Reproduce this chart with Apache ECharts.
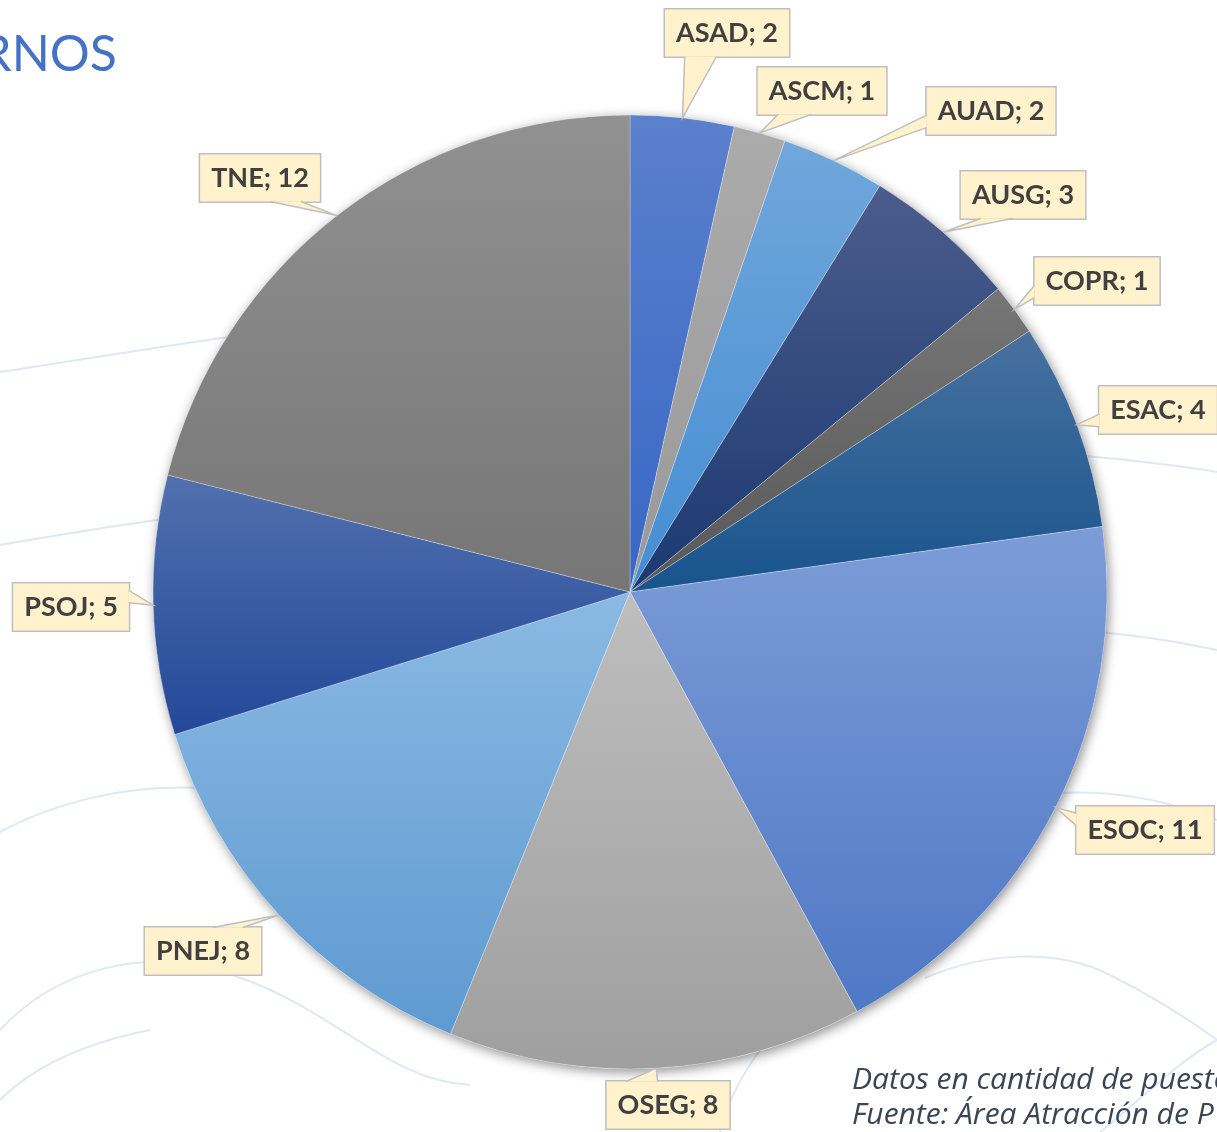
<!DOCTYPE html>
<html>
<head>
<meta charset="utf-8">
<script src="https://cdn.jsdelivr.net/npm/echarts@6/dist/echarts.min.js"></script>
<style>
  html, body { margin: 0; padding: 0; background: #ffffff; }
  #chart { width: 1217px; height: 1132px; }
</style>
</head>
<body>
<div id="chart"></div>
<script>
// ---- data ----
const categories = ['ASAD', 'ASCM', 'AUAD', 'AUSG', 'COPR', 'ESAC', 'ESOC', 'OSEG', 'PNEJ', 'PSOJ', 'TNE'];
const values = [2, 1, 2, 3, 1, 4, 11, 8, 8, 5, 12];
const titleText = 'RNOS';
const noteLines = ['Datos en cantidad de puestos', 'Fuente: Área Atracción de P'];

// ---- styles / layout ----
const topColors    = ['#5b80cc', '#ababab', '#70a7db', '#4b5c8b', '#767676', '#48719f', '#7c9cd7', '#bebebe', '#8bb9e3', '#5270ae', '#919191'];
const bottomColors = ['#3767c5', '#999999', '#448dd3', '#1b3972', '#585858', '#18548d', '#4f78c5', '#9f9f9f', '#5e9ad1', '#224898', '#767676'];
const CENTER = [630, 592];
const RADIUS = 477;
// label box centre offsets from the pie centre (px)
const labelOffsets = [[97, -559], [192, -501], [361, -481], [393, -397], [467, -311], [528, -182], [515, 238], [38, 513], [-427, 359], [-559, 15], [-370, -414]];

const chart = echarts.init(document.getElementById('chart'), null, { renderer: 'canvas' });

function tipFor(i) {
  const total = values.reduce((s, v) => s + v, 0);
  let before = 0;
  for (let k = 0; k < i; k++) before += values[k];
  const mid = (before + values[i] / 2) / total * Math.PI * 2;
  return [CENTER[0] + RADIUS * Math.sin(mid), CENTER[1] - RADIUS * Math.cos(mid)];
}

// Office "wedgeRectCallout" tail geometry
function calloutTail(tip, left, top, w, h) {
  const hc = left + w / 2, vc = top + h / 2;
  const dxPos = tip[0] - hc, dyPos = tip[1] - vc;
  const dq = dxPos * h / w;
  const dz = Math.abs(dyPos) - Math.abs(dq);
  const inset = 1.5;
  if (dz > 0) {
    const g1 = dxPos > 0 ? 7 : 2, g2 = dxPos > 0 ? 10 : 5;
    const ey = dyPos > 0 ? top + h - inset : top + inset;
    return [[left + w * g1 / 12, ey], tip, [left + w * g2 / 12, ey]];
  } else {
    const g1 = dyPos > 0 ? 7 : 2, g2 = dyPos > 0 ? 10 : 5;
    const ex = dxPos > 0 ? left + w - inset : left + inset;
    return [[ex, top + h * g1 / 12], tip, [ex, top + h * g2 / 12]];
  }
}

const boxes = [];

const pieData = categories.map((name, i) => ({
  name: name,
  value: values[i],
  itemStyle: {
    color: {
      type: 'linear', x: 0, y: 0, x2: 0, y2: 1,
      colorStops: [{ offset: 0, color: topColors[i] }, { offset: 1, color: bottomColors[i] }]
    }
  }
}));

// faint decorative background curves
const bgCurves = [
  [0, 372, 80, 360, 170, 345, 250, 334],
  [0, 545, 60, 535, 110, 526, 165, 519],
  [1085, 456, 1130, 460, 1175, 465, 1217, 472],
  [1100, 632, 1140, 636, 1180, 642, 1217, 650],
  [1060, 793, 1110, 790, 1170, 800, 1217, 820],
  [0, 832, 60, 800, 130, 785, 200, 788],
  [0, 1030, 60, 965, 150, 950, 215, 970],
  [215, 970, 330, 1000, 380, 1080, 470, 1085],
  [925, 978, 990, 950, 1060, 950, 1110, 975],
  [1110, 975, 1160, 1000, 1190, 1020, 1217, 1040],
  [720, 1132, 730, 1090, 760, 1040, 800, 1010],
  [1100, 1132, 1140, 1100, 1180, 1060, 1217, 1040],
  [0, 1100, 40, 1060, 100, 1040, 150, 1030]
];

const graphics = bgCurves.map(c => ({
  type: 'bezierCurve',
  silent: true,
  z: -10,
  shape: { x1: c[0], y1: c[1], cpx1: c[2], cpy1: c[3], cpx2: c[4], cpy2: c[5], x2: c[6], y2: c[7] },
  style: { stroke: '#dfe8f3', lineWidth: 2, fill: null }
}));

graphics.push({
  type: 'text',
  right: 1217 - 117,
  top: 30,
  style: {
    text: titleText,
    fill: '#4472c4',
    font: '50px Lato, "Open Sans", sans-serif'
  }
});

noteLines.forEach((t, k) => {
  graphics.push({
    type: 'text',
    left: 852,
    top: 1065 + k * 35,
    style: {
      text: t,
      fill: '#3a4556',
      font: 'italic 30px "Open Sans", "Noto Sans", sans-serif'
    }
  });
});

const option = {
  backgroundColor: '#ffffff',
  animation: false,
  graphic: graphics,
  series: [
    {
      // soft shadow under the pie
      type: 'pie',
      silent: true,
      z: 1,
      center: CENTER,
      radius: RADIUS,
      label: { show: false },
      labelLine: { show: false },
      emphasis: { disabled: true },
      itemStyle: {
        color: '#ffffff',
        shadowBlur: 12,
        shadowColor: 'rgba(0,0,0,0.45)',
        shadowOffsetX: 2,
        shadowOffsetY: 3
      },
      data: [{ value: 1, name: '' }]
    },
    {
      type: 'pie',
      z: 2,
      center: CENTER,
      radius: RADIUS,
      startAngle: 90,
      clockwise: true,
      avoidLabelOverlap: false,
      emphasis: { disabled: true },
      itemStyle: { borderColor: 'rgba(255,255,255,0.35)', borderWidth: 0.8 },
      label: {
        show: true,
        position: 'outside',
        formatter: '{b}; {c}',
        color: '#404040',
        fontFamily: 'Lato, "Open Sans", sans-serif',
        fontWeight: 'bold',
        fontSize: 27,
        lineHeight: 34,
        backgroundColor: '#fff2cc',
        borderColor: '#bfbfbf',
        borderWidth: 1.5,
        padding: [7, 11, 6, 11]
      },
      labelLine: { show: false },
      labelLayout: function (p) {
        const i = p.dataIndex;
        const off = labelOffsets[i];
        const cx = CENTER[0] + off[0];
        const cy = CENTER[1] + off[1];
        const w = p.labelRect.width;
        const h = p.labelRect.height;
        boxes[i] = { left: cx - w / 2, top: cy - h / 2, w: w, h: h };
        return { x: cx, y: cy, align: 'center', verticalAlign: 'middle' };
      },
      data: pieData
    }
  ]
};

chart.setOption(option);

// callout tails (filled wedges), drawn on top so they merge with the label boxes
const tails = [];
boxes.forEach((b, i) => {
  if (!b) return;
  tails.push({
    type: 'polyline',
    silent: true,
    z: 50,
    shape: { points: calloutTail(tipFor(i), b.left, b.top, b.w, b.h) },
    style: { fill: '#fff2cc', stroke: '#bfbfbf', lineWidth: 1.5 }
  });
});
chart.setOption({ graphic: graphics.concat(tails) });
</script>
</body>
</html>
